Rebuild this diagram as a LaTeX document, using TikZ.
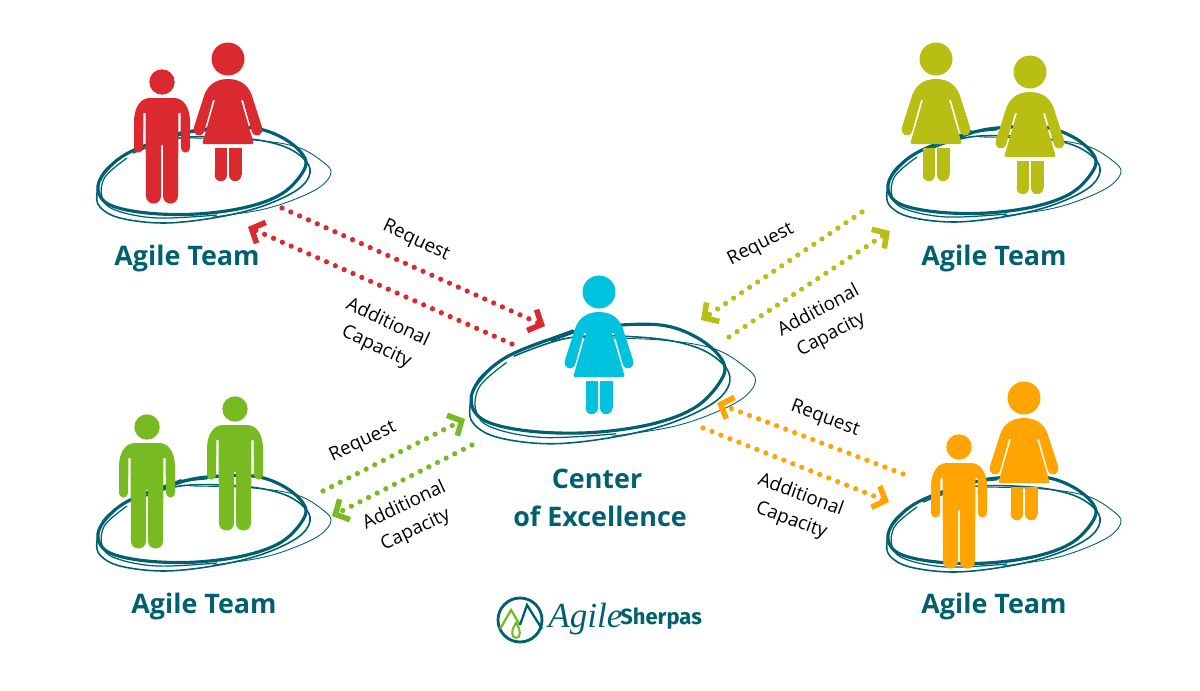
\documentclass[tikz,border=0pt]{standalone}
\usepackage{fontspec}
\setmainfont{Open Sans}
\newfontfamily\logoscript{Liberation Serif}
\newfontfamily\logosans{Fira Sans}
\usetikzlibrary{arrows.meta}
\definecolor{tealink}{HTML}{00606F}
\definecolor{figred}{HTML}{DA2A30}
\definecolor{figolive}{HTML}{B8BE14}
\definecolor{figcyan}{HTML}{00C1DE}
\definecolor{figgreen}{HTML}{78BA22}
\definecolor{figorange}{HTML}{FFA400}
\definecolor{logogreen}{HTML}{78BA22}

\begin{document}
\begin{tikzpicture}[
    x=0.02cm, y=-0.02cm,
    team/.style={font=\fontsize{15.3}{20}\selectfont\bfseries, text=tealink, inner sep=0pt},
    tag/.style={font=\fontsize{10.7}{15.2}\selectfont, align=center, inner sep=0pt, text=black},
    arr/.style={line width=3pt, line cap=round, dash pattern=on 0pt off 5.5pt,
        -{Straight Barb[length=6pt, width=13pt, line width=3.2pt]}},
    scrib/.style={draw=tealink, smooth, tension=0.6},
    woman/.pic={
        \path[pic actions] (0,0) circle (16.5);
        \path[pic actions] (0,20) .. controls (-14,20) and (-22,28) .. (-25,40) -- (-34,68)
            .. controls (-36,76) and (-28,80) .. (-24,73) -- (-15,41) -- (-13,41) -- (-25,82)
            .. controls (-26,85) and (-25,85) .. (-23,85) -- (23,85)
            .. controls (25,85) and (26,85) .. (25,82) -- (13,41) -- (15,41) -- (24,73)
            .. controls (28,80) and (36,76) .. (34,68) -- (25,40)
            .. controls (22,28) and (14,20) .. (0,20) -- cycle;
        \path[pic actions] (-13.5,89) rectangle (-1,116);
        \path[pic actions] (1,89) rectangle (13.5,116);
        \path[pic actions] (-7.2,116) circle (6.2);
        \path[pic actions] (7.2,116) circle (6.2);
    },
    man/.pic={
        \path[pic actions] (0,0) circle (12.7);
        \path[pic actions] (-12,16) -- (12,16) .. controls (22,16) and (28,26) .. (28,40) -- (28,65)
            .. controls (28,72.5) and (19,72.5) .. (19,65) -- (18.5,31) -- (16.5,31) -- (16,114)
            .. controls (16,124) and (1,124) .. (1,114) -- (1,63) -- (-1,63) -- (-1,114)
            .. controls (-1,124) and (-16,124) .. (-16,114) -- (-16.5,31) -- (-18.5,31) -- (-19,65)
            .. controls (-19,72.5) and (-28,72.5) .. (-28,65) -- (-28,40)
            .. controls (-28,26) and (-22,16) .. (-12,16) -- cycle;
    },
    scribble/.pic={
        \draw[scrib, line width=1.8pt] plot coordinates {(70,10) (83,6) (110,1) (156,0) (186,10) (206,27) (207,42)
            (186,65) (150,79) (100,86) (50,85) (13,77) (1,62) (8,44) (33,24) (83,6) (110,2)};
        \draw[scrib, line width=0.9pt] plot coordinates {(36,25) (83,10) (143,10) (183,17) (206,30) (213,45)
            (200,62) (163,79) (116,90) (66,95) (23,90) (3,79) (0,65) (6,45) (20,32)};
        \draw[scrib, line width=0.5pt] plot coordinates {(93,10) (156,12) (200,19) (226,34) (234,45) (223,59)
            (196,72) (163,82) (116,89)};
        \draw[scrib, line width=0.7pt] plot coordinates {(120,87) (60,90) (18,82) (5,69) (8,49) (30,30)};
        \draw[scrib, line width=2.4pt] (66,12) -- (85,5);
    }
]
\useasboundingbox (0,0) rectangle (1200,690);

% rings
\pic (ringa) at (97,128) {scribble};
\pic (ringb) at (887,127) {scribble};
\pic (ringc) at (97,476) {scribble};
\pic (ringd) at (887,477) {scribble};
\pic[xscale=1.22, yscale=1.25] (ringe) at (470,325) {scribble};

% people
\pic[fill=figred] (mana) at (162,82) {man};
\pic[fill=figred] (womana) at (228,59) {woman};
\pic[fill=figolive] (womanb) at (936,59) {woman};
\pic[fill=figolive] (womanc) at (1030,72) {woman};
\pic[fill=figgreen] (manb) at (147,427) {man};
\pic[fill=figgreen] (manc) at (235,409) {man};
\pic[fill=figorange] (mand) at (959,447) {man};
\pic[fill=figorange] (womand) at (1024,398) {woman};
\pic[fill=figcyan] (womane) at (599,292) {woman};

% titles
\node[team] (ta) at (187,259) {Agile Team};
\node[team] (tb) at (994,259) {Agile Team};
\node[team] (tc) at (204,607) {Agile Team};
\node[team] (td) at (994,607) {Agile Team};
\node[team] (cena) at (597,479) {Center};
\node[team] (cenb) at (600,516) {of Excellence};

% ends of the arrows
\coordinate (ra1) at (282,208);
\coordinate (ra2) at (545,326);
\coordinate (rb1) at (512,344);
\coordinate (rb2) at (248,227);
\coordinate (oa1) at (862,212);
\coordinate (oa2) at (701,320);
\coordinate (ob1) at (729,337);
\coordinate (ob2) at (890,231);
\coordinate (ga1) at (323,491);
\coordinate (ga2) at (465,419);
\coordinate (gb1) at (472,445);
\coordinate (gb2) at (332,516);
\coordinate (ya1) at (903,474);
\coordinate (ya2) at (717,403);
\coordinate (yb1) at (703,428);
\coordinate (yb2) at (889,502);

\draw[arr, figred] (ra1) -- (ra2);
\draw[arr, figred] (rb1) -- (rb2);
\draw[arr, figolive] (oa1) -- (oa2);
\draw[arr, figolive] (ob1) -- (ob2);
\draw[arr, figgreen] (ga1) -- (ga2);
\draw[arr, figgreen] (gb1) -- (gb2);
\draw[arr, figorange] (ya1) -- (ya2);
\draw[arr, figorange] (yb1) -- (yb2);

% labels
\node[tag, rotate=-25] (la) at (416,241) {Request};
\node[tag, rotate=-25] (lb) at (382,335) {Additional\\Capacity};
\node[tag, rotate=27] (lc) at (761,245) {Request};
\node[tag, rotate=28] (ld) at (825,323) {Additional\\Capacity};
\node[tag, rotate=25] (le) at (363,442) {Request};
\node[tag, rotate=25] (lf) at (410,518) {Additional\\Capacity};
\node[tag, rotate=-20] (lg) at (825,419) {Request};
\node[tag, rotate=-20] (lh) at (796,508) {Additional\\Capacity};

% logo
\node[circle, draw=tealink, line width=1.6pt, minimum size=44*0.02cm, inner sep=0pt] (logoring) at (520,620) {};
\coordinate (pa) at (500,629);
\coordinate (pb) at (511,610);
\coordinate (pc) at (520,625);
\coordinate (pd) at (527,605);
\coordinate (pe) at (542,629);
\draw[logogreen, line width=1.3pt] (pa) -- (pb) -- (pc);
\draw[tealink, line width=1.3pt] (pc) -- (pd) -- (pe);
\draw[logogreen, line width=1.2pt] (516,623) .. controls (511,630) and (511,638) .. (516,638)
    .. controls (521,638) and (521,630) .. (516,623) -- cycle;
\node[inner sep=0pt, anchor=west, text=tealink, font=\fontsize{20}{20}\logoscript\itshape] (logoa) at (548,619) {Agile};
\node[inner sep=0pt, anchor=west, text=tealink, font=\fontsize{12.5}{20}\logosans\bfseries] (logob) at (620,619) {Sherpas};
\end{tikzpicture}
\end{document}
